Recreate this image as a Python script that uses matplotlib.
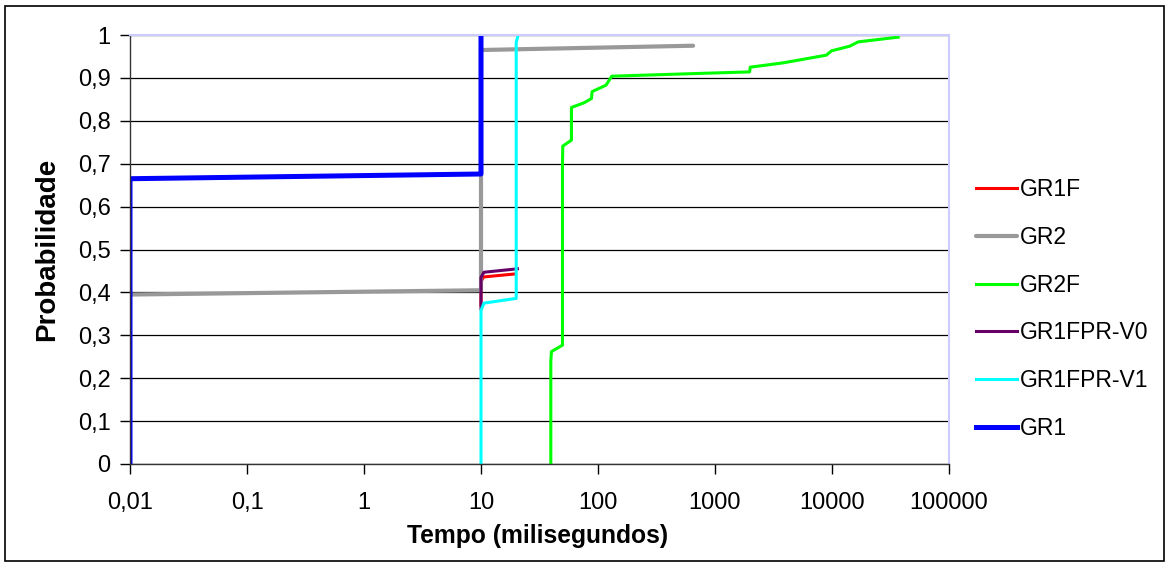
import numpy as np
import matplotlib
matplotlib.use('Agg')
import matplotlib.pyplot as plt
from matplotlib.patches import Rectangle

plt.rcParams['font.family'] = ['Liberation Sans', 'DejaVu Sans']

# Data (tempo in ms, probabilidade acumulada)
gr1f_x = [10, 10, 10.5, 19.5]
gr1f_y = [0.37, 0.425, 0.436, 0.443]

gr2_x = [0.01, 10, 10, 650]
gr2_y = [0.395, 0.405, 0.965, 0.975]

gr2f_x = [39.5, 39.5, 40, 49.7, 49.7, 50, 59.3, 59.3, 76, 88, 89, 117, 129, 131,
          497, 1977, 2000, 3810, 8950, 9890, 14190, 16750, 36800]
gr2f_y = [0, 0.238, 0.262, 0.277, 0.701, 0.741, 0.755, 0.831, 0.842, 0.852, 0.868,
          0.883, 0.901, 0.904, 0.909, 0.914, 0.925, 0.935, 0.953, 0.963, 0.974,
          0.984, 0.995]

v0_x = [10, 10, 10.6, 20.5]
v0_y = [0.362, 0.435, 0.447, 0.455]

v1_x = [10, 10, 10.6, 20, 20, 20.6]
v1_y = [0, 0.358, 0.375, 0.386, 0.983, 0.996]

gr1_x = [0.01, 0.01, 10, 10]
gr1_y = [0, 0.665, 0.676, 1.0]

xticks = [0.01, 0.1, 1, 10, 100, 1000, 10000, 100000]
xtick_labels = ['0,01', '0,1', '1', '10', '100', '1000', '10000', '100000']
yticks = [0, 0.1, 0.2, 0.3, 0.4, 0.5, 0.6, 0.7, 0.8, 0.9, 1.0]
ytick_labels = ['0', '0,1', '0,2', '0,3', '0,4', '0,5', '0,6', '0,7', '0,8', '0,9', '1']

#%% Figure
W, H = 1167, 563
fig = plt.figure(figsize=(W / 100, H / 100), dpi=100)
ax = fig.add_axes([130 / W, (H - 464) / H, (949 - 130) / W, (464 - 35) / H])

ax.plot(gr1f_x, gr1f_y, color='#ff0000', lw=2.2, label='GR1F')
ax.plot(gr2_x, gr2_y, color='#999999', lw=3.0, label='GR2', solid_capstyle='round')
ax.plot(gr2f_x, gr2f_y, color='#00ff00', lw=2.2, label='GR2F')
ax.plot(v0_x, v0_y, color='#660066', lw=2.2, label='GR1FPR-V0')
ax.plot(v1_x, v1_y, color='#00ffff', lw=2.2, label='GR1FPR-V1')
ax.plot(gr1_x, gr1_y, color='#0000ff', lw=3.6, label='GR1')

ax.set_xscale('log')
ax.set_xlim(0.01, 100000)
ax.set_ylim(0, 1)
ax.set_xticks(xticks)
ax.set_xticklabels(xtick_labels)
ax.xaxis.set_minor_locator(matplotlib.ticker.NullLocator())
ax.set_yticks(yticks)
ax.set_yticklabels(ytick_labels)
ax.tick_params(axis='both', direction='out', length=7, width=1, labelsize=17, color='black')
ax.tick_params(axis='x', pad=13)
ax.tick_params(axis='y', pad=7)

ax.grid(axis='y', color='black', lw=0.9)
ax.set_axisbelow(True)
for s in ['top', 'right']:
    ax.spines[s].set_color('#ccccff')
    ax.spines[s].set_linewidth(1.5)
for s in ['left', 'bottom']:
    ax.spines[s].set_color('#333333')
    ax.spines[s].set_linewidth(1)

ax.set_xlabel('Tempo (milisegundos)', fontsize=17.7, fontweight='bold')
ax.set_ylabel('Probabilidade', fontsize=20, fontweight='bold')
ax.xaxis.set_label_coords((538 - 130) / 819, (464 - 524) / 429)
ax.yaxis.set_label_coords((60 - 130) / 819, 0.5)

ax.legend(loc='center left', bbox_to_anchor=(967 / W, (H - 309) / H),
          bbox_transform=fig.transFigure, frameon=False, fontsize=16.5,
          handlelength=1.8, handletextpad=0.1, labelspacing=1.08, borderaxespad=0)

# outer border of the chart
fig.patches.append(Rectangle((5 / W, 2 / H), (W - 8) / W, (H - 8) / H,
                             transform=fig.transFigure, fill=False,
                             edgecolor='black', lw=1.2))

fig.savefig('out.png', dpi=100)
